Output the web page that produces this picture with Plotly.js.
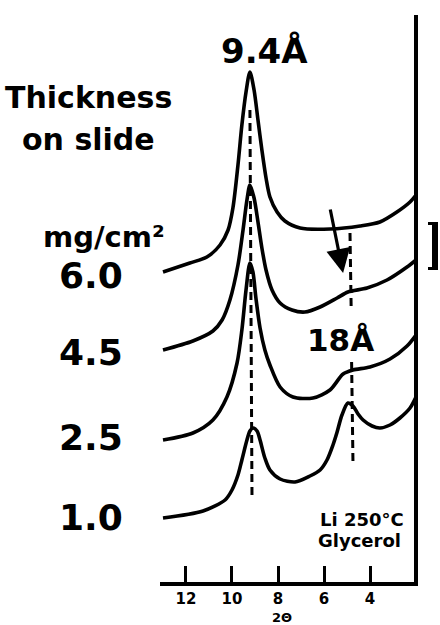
<!DOCTYPE html>
<html>
<head>
<meta charset="utf-8">
<script src="https://cdn.plot.ly/plotly-3.0.1.min.js"></script>
<style>html,body{margin:0;padding:0;background:#fff;}#chart{width:440px;height:625px;}</style>
</head>
<body>
<div id="chart"></div>
<script>
// Thickness on slide (mg/cm2)
const thickness = ['6.0', '4.5', '2.5', '1.0'];

// 2-theta (degrees) and relative intensity (offset traces)
const twoTheta_60 = [13.0, 11.83, 11.09, 10.52, 10.17, 9.96, 9.74, 9.57, 9.39, 9.22, 9.04, 8.87, 8.70, 8.52, 8.35, 8.04, 7.70, 7.04, 5.74, 4.43, 3.57, 2.83, 2.26, 2.0];
const intensity_60 = [312, 321, 327, 339, 354, 376, 419, 459, 492, 512, 494, 464, 434, 406, 387, 372, 363, 356, 355, 358, 362, 372, 382, 389];

const twoTheta_45 = [13.0, 11.70, 10.83, 10.43, 10.09, 9.74, 9.52, 9.35, 9.22, 9.04, 8.87, 8.70, 8.52, 8.26, 7.91, 7.39, 6.83, 6.17, 5.43, 4.96, 4.13, 3.26, 2.39, 2.0];
const intensity_45 = [234, 243, 253, 264, 284, 319, 354, 384, 399, 386, 362, 336, 314, 294, 281, 274, 272, 277, 286, 292, 296, 304, 317, 324];

const twoTheta_25 = [13.0, 11.70, 10.83, 10.22, 9.78, 9.57, 9.39, 9.22, 9.09, 8.96, 8.78, 8.57, 8.35, 7.91, 7.35, 6.48, 5.74, 5.17, 4.74, 4.00, 3.13, 2.39, 2.0];
const intensity_25 = [144, 151, 164, 187, 221, 254, 294, 321, 312, 286, 256, 234, 219, 197, 187, 186, 194, 210, 214, 217, 225, 238, 249];

const twoTheta_10 = [13.0, 11.26, 10.30, 10.00, 9.74, 9.57, 9.35, 9.22, 9.09, 8.91, 8.78, 8.57, 8.35, 7.91, 7.26, 6.61, 6.17, 5.87, 5.61, 5.43, 5.22, 4.96, 4.74, 4.52, 4.30, 3.91, 3.57, 3.13, 2.70, 2.26, 2.0];
const intensity_10 = [66, 73, 84, 94, 109, 124, 144, 153, 156, 153, 144, 126, 114, 105, 102, 108, 114, 124, 139, 152, 169, 181, 178, 170, 164, 158, 156, 159, 166, 176, 187];

const tickVals = [12, 10, 8, 6, 4];
const tickText = ['12', '10', '8', '6', '4'];

// peak markers (2-theta) with dashed-line extents (intensity)
const peak94 = {label: '9.4 Å', x0: 9.22, x1: 9.13, y0: 474, y1: 87};
const peak18 = {label: '18Å', x0: 4.87, x1: 4.74, yTop: 351, yGapTop: 277, yGapBot: 222, yBot: 121};

const FONT = 'DejaVu Sans';
const L = 160, R = 26, T = 15, B = 43, W = 440, H = 625;
const PW = W - L - R, PH = H - T - B;
function px(x) { return (x - L) / PW; }
function py(y) { return (H - B - y) / PH; }

const series = [
  [twoTheta_60, intensity_60],
  [twoTheta_45, intensity_45],
  [twoTheta_25, intensity_25],
  [twoTheta_10, intensity_10]
];
const traces = series.map((s, i) => ({
  x: s[0], y: s[1], type: 'scatter', mode: 'lines', name: thickness[i],
  line: {color: '#000', width: 3.6, shape: 'spline', smoothing: 0.8},
  hoverinfo: 'skip'
}));

function txt(text, x, y, size, xanchor, extra) {
  return Object.assign({
    text: text, xref: 'paper', yref: 'paper', x: px(x), y: py(y),
    xanchor: xanchor || 'center', yanchor: 'middle', showarrow: false,
    font: {family: FONT, size: size, color: '#000', weight: 'bold'}
  }, extra || {});
}

const labelY = [275, 352, 437, 517];
const annotations = [
  txt('Thickness', 3, 97, 30, 'left'),
  txt('on slide', 20, 139, 30, 'left'),
  txt('mg/cm²', 41, 237, 29, 'left'),
  ...thickness.map((t, i) => txt(t, 91, labelY[i], 36, 'center')),
  txt(peak94.label.replace(' ', ''), 264, 51, 34, 'center'),
  txt(peak18.label, 340, 340, 31, 'center'),
  txt('Li 250°C', 405, 519, 18, 'right', {borderpad: 0}),
  txt('Glycerol', 402, 540, 18, 'right', {borderpad: 0}),
  txt('2Θ', 282, 617, 13, 'center', {borderpad: 0, borderwidth: 0}),
  {
    text: '', xref: 'x', yref: 'y', axref: 'x', ayref: 'y',
    x: 5.17, y: 311, ax: 5.74, ay: 376,
    showarrow: true, arrowhead: 2, arrowsize: 1.5, arrowwidth: 3.2, arrowcolor: '#000', standoff: 0
  }
];

const dashStyle = {color: '#000', width: 3, dash: '8px,5px'};
const shapes = [
  {type: 'line', xref: 'x', yref: 'y', x0: peak94.x0, x1: peak94.x1, y0: peak94.y0, y1: peak94.y1, line: dashStyle},
  {type: 'line', xref: 'x', yref: 'y', x0: peak18.x0, x1: 4.82, y0: peak18.yTop, y1: peak18.yGapTop, line: dashStyle},
  {type: 'line', xref: 'x', yref: 'y', x0: 4.80, x1: peak18.x1, y0: peak18.yGapBot, y1: peak18.yBot, line: dashStyle},
  // bracket at the right edge
  {type: 'rect', xref: 'paper', yref: 'paper', x0: px(432), x1: px(438), y0: py(222), y1: py(270),
   fillcolor: '#000', line: {width: 0}},
  {type: 'line', xref: 'paper', yref: 'paper', x0: px(428), x1: px(437), y0: py(223.5), y1: py(223.5), line: {color: '#000', width: 3}},
  {type: 'line', xref: 'paper', yref: 'paper', x0: px(428), x1: px(437), y0: py(268.5), y1: py(268.5), line: {color: '#000', width: 3}}
];

const layout = {
  width: W, height: H,
  margin: {l: L, r: R, t: T, b: B, pad: 0},
  paper_bgcolor: '#fff', plot_bgcolor: '#fff',
  showlegend: false,
  xaxis: {
    range: [13.13, 2.087], tickvals: tickVals, ticktext: tickText,
    ticks: 'inside', ticklen: 16, tickwidth: 3, tickcolor: '#000',
    showline: true, linewidth: 4, linecolor: '#000',
    showgrid: false, zeroline: false,
    tickfont: {family: FONT, size: 15, color: '#000', weight: 'bold'}
  },
  yaxis: {
    range: [2, 569], side: 'right', showline: true, linewidth: 4, linecolor: '#000',
    showticklabels: false, ticks: '', showgrid: false, zeroline: false
  },
  annotations: annotations,
  shapes: shapes
};

Plotly.newPlot('chart', traces, layout, {staticPlot: true, displayModeBar: false});
</script>
</body>
</html>
